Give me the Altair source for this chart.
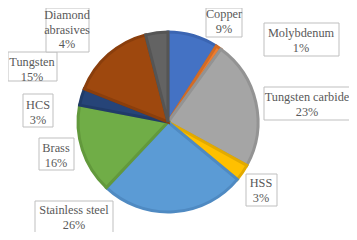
import altair as alt
import pandas as pd

# ---- data ----
materials = ["Copper", "Molybdenum", "Tungsten carbide", "HSS", "Stainless steel",
             "Brass", "HCS", "Tungsten", "Diamond abrasives"]
shares = [9, 1, 23, 3, 26, 16, 3, 15, 4]
label_lines = [["Copper"], ["Molybdenum"], ["Tungsten carbide"], ["HSS"], ["Stainless steel"],
               ["Brass"], ["HCS"], ["Tungsten"], ["Diamond", "abrasives"]]

# ---- styles ----
fills = ["#4472C4", "#ED7D31", "#A5A5A5", "#FFC000", "#5B9BD5",
         "#70AD47", "#264478", "#9E480E", "#636363"]
strokes = ["#3B65B2", "#D26B25", "#939393", "#E2AA00", "#4F8AC2",
           "#62993C", "#203B69", "#8A3E0C", "#555555"]

# ---- label layout (page pixels: text centre x, first line y, box edges) ----
lab_cx = [224, 301, 307, 261, 74, 56, 38, 32, 67]
lab_y0 = [14, 33, 97, 183, 210, 148, 105, 62, 15]
box_x0 = [206, 264, 264, 246, 35, 39, 23, 8, 46]
box_x1 = [242, 339, 352, 277, 113, 74, 53, 57, 89]
box_y0 = [8, 23, 87, 174, 201, 138, 94, 52, 8]
box_y1 = [37, 56, 120, 206, 236, 170, 127, 81, 52]
line_gap = 14.5
M = 8  # page margin
CX, CY = 168, 122  # pie centre on the page

pie_df = pd.DataFrame({"material": materials, "share": shares, "idx": range(len(materials))})

box_df = pd.DataFrame({
    "material": materials,
    "x0": [v - M for v in box_x0], "x1": [v - M for v in box_x1],
    "y0": [v - M for v in box_y0], "y1": [v - M for v in box_y1],
})

rows = []
for i, m in enumerate(materials):
    lines = label_lines[i] + [f"{shares[i]}%"]
    for k, t in enumerate(lines):
        rows.append({"t": t, "x": lab_cx[i] - M, "y": lab_y0[i] - M + k * line_gap})
text_df = pd.DataFrame(rows)

W, H = 341, 224

pie = alt.Chart(pie_df).mark_arc(outerRadius=90, strokeWidth=3, strokeJoin="miter").encode(
    theta=alt.Theta("share:Q", stack=True),
    order=alt.Order("idx:Q"),
    x=alt.value(CX - M), y=alt.value(CY - M),
    color=alt.Color("material:N", scale=alt.Scale(domain=materials, range=fills), legend=None),
    stroke=alt.Stroke("material:N", scale=alt.Scale(domain=materials, range=strokes), legend=None),
)

boxes = alt.Chart(box_df).mark_rect(fill="white", stroke="#BFBFBF", strokeWidth=1).encode(
    x=alt.X("x0:Q", scale=None), x2="x1:Q",
    y=alt.Y("y0:Q", scale=None), y2="y1:Q",
)

texts = alt.Chart(text_df).mark_text(
    font="Liberation Serif", fontSize=12.3, color="#595959", align="center", baseline="middle"
).encode(
    x=alt.X("x:Q", scale=None), y=alt.Y("y:Q", scale=None), text="t:N"
)

chart = alt.layer(pie, boxes, texts).properties(
    width=W, height=H,
    autosize=alt.AutoSizeParams(type="none"),
    padding=0,
).configure_view(stroke=None)

chart.save("out.html", embed_options={"renderer": "svg", "actions": False})
